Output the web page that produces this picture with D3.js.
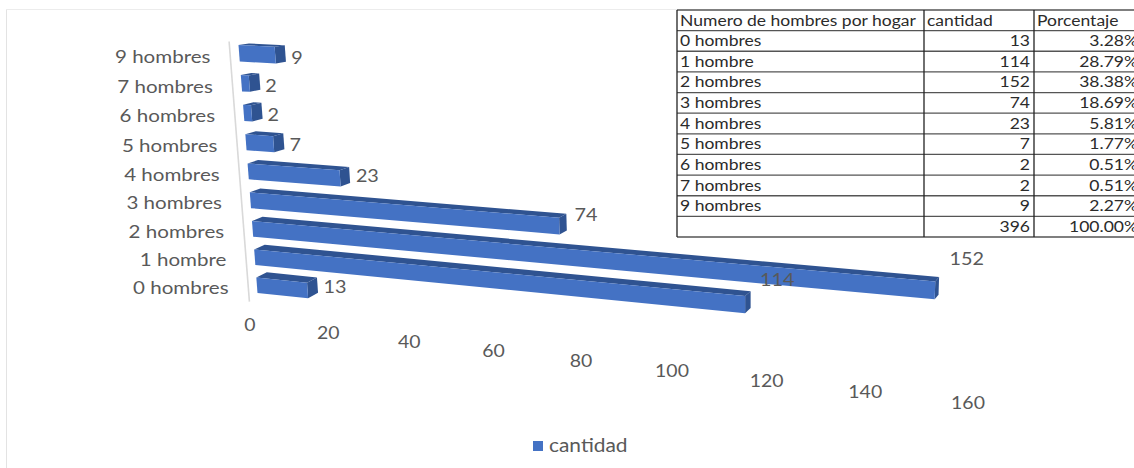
<!DOCTYPE html>
<html>
<head>
<meta charset="utf-8">
<script src="https://cdn.jsdelivr.net/npm/d3@7/dist/d3.min.js"></script>
<style>
html,body{margin:0;padding:0;background:#fff;overflow:hidden}
svg{display:block}
text{font-family:Lato,"Noto Sans",sans-serif}
</style>
</head>
<body>
<svg id="chart" width="1134" height="468"></svg>
<script>
// Household data: men per household
const categories = ["0 hombres","1 hombre","2 hombres","3 hombres","4 hombres","5 hombres","6 hombres","7 hombres","9 hombres"];
const cantidad = [13,114,152,74,23,7,2,2,9];
const porcentaje = ["3.28%","28.79%","38.38%","18.69%","5.81%","1.77%","0.51%","0.51%","2.27%"];
const totalCantidad = "396";
const totalPorcentaje = "100.00%";
const xTicks = [0,20,40,60,80,100,120,140,160];
const tableHeader = ["Numero de hombres por hogar","cantidad","Porcentaje"];
const seriesName = "cantidad";

const W = 1134, H = 468;
const svg = d3.select("#chart");

const FRONT = "#4472C4", SHADE = "#2F5391";

// Widen text horizontally by a factor, keeping its anchor
function widen(sel,k){
  sel.each(function(){
    const len=this.getComputedTextLength();
    if(len>0) d3.select(this).attr("textLength",len*k).attr("lengthAdjust","spacingAndGlyphs");
  });
}

// Scales work on a flat unit plane; the plane is then tilted into perspective
const xScale = d3.scaleLinear().domain([0,160]).range([0,1]);
const rowScale = d3.scaleBand().domain(categories).range([0,1]).paddingInner(0.45).paddingOuter(0);

// Corners of the tilted plane on screen: (0,0), (1,0), (1,1), (0,1)
const corners = [[257.5,293],[974,368],[985,81],[238.5,45]];
function makeHomography(c){
  const [[x0,y0],[x1,y1],[x2,y2],[x3,y3]] = c;
  const dx1=x1-x2, dx2=x3-x2, sx=x0-x1+x2-x3;
  const dy1=y1-y2, dy2=y3-y2, sy=y0-y1+y2-y3;
  const det=dx1*dy2-dx2*dy1;
  const g=(sx*dy2-dx2*sy)/det, h=(dx1*sy-sx*dy1)/det;
  const a=x1-x0+g*x1, b=x3-x0+h*x3, d=y1-y0+g*y1, e=y3-y0+h*y3;
  return (u,v)=>{
    const w=g*u+h*v+1;
    return [(a*u+b*v+x0)/w,(d*u+e*v+y0)/w];
  };
}
const plane = makeHomography(corners);

// Extrusion of each bar: narrows to the right, flattens toward the top
const depthX = d3.scaleLinear().domain([0,160]).range([10.5,3.5]);
const depthY = d3.scaleLinear().domain([0,1]).range([-5.5,-1.5]);
const back = (p,val,w)=>[p[0]+depthX(val),p[1]+depthY(w)];

// Chart frame
svg.append("line").attr("x1",6.5).attr("x2",6.5).attr("y1",9).attr("y2",H).attr("stroke","#e3e3e3");
svg.append("line").attr("x1",6).attr("x2",677).attr("y1",9.5).attr("y2",9.5).attr("stroke","#ececec");

// Category axis line
const axisTop = plane(xScale(-2.3),1.012), axisBottom = plane(xScale(-2.3),-0.04);
svg.append("line").attr("x1",axisTop[0]).attr("y1",axisTop[1]).attr("x2",axisBottom[0]).attr("y2",axisBottom[1])
  .attr("stroke","#d9d9d9").attr("stroke-width",1.6);

// Category labels, end-aligned along the axis
svg.append("g").selectAll("text").data(categories).join("text")
  .attr("x",d=>plane(xScale(-2.3),rowScale(d)+rowScale.bandwidth()/2)[0]-19.5)
  .attr("y",d=>{const w=rowScale(d)+rowScale.bandwidth()/2;return plane(0,w)[1]+8.5+1.5*w;})
  .attr("text-anchor","end").attr("font-size",18.2).attr("fill","#595959").text(d=>d)
  .call(widen,1.13);

// Bars as three visible faces
const line = d3.line();
const bars = svg.append("g").selectAll("g").data(categories).join("g");
bars.each(function(cat,i){
  const v=cantidad[i], w0=rowScale(cat), w1=w0+rowScale.bandwidth(), u=xScale(v);
  const flb=plane(0,w0), flt=plane(0,w1), frb=plane(u,w0), frt=plane(u,w1);
  const blt=back(flt,0,w1), brt=back(frt,v,w1), brb=back(frb,v,w0);
  const g=d3.select(this);
  g.append("path").attr("d",line([flt,frt,brt,blt])+"Z").attr("fill",SHADE);
  g.append("path").attr("d",line([frt,frb,brb,brt])+"Z").attr("fill",SHADE);
  g.append("path").attr("d",line([flt,frt,frb,flb])+"Z").attr("fill",FRONT);
});

// Value labels: the longer the bar, the higher its label sits above the slope
const labelLift = d3.scaleLinear().domain([0,74,114,160]).range([0,-11,-23,-33]);
const labelGap = d3.scaleLinear().domain([0,160]).range([5.5,11]);
svg.append("g").selectAll("text").data(categories).join("text")
  .attr("x",(d,i)=>{
    const w=rowScale(d)+rowScale.bandwidth()/2;
    const p=plane(xScale(cantidad[i]),w);
    return back(p,cantidad[i],w)[0]+labelGap(cantidad[i]);
  })
  .attr("y",(d,i)=>{
    const w=rowScale(d)+rowScale.bandwidth()/2;
    return plane(xScale(cantidad[i]),w)[1]+labelLift(cantidad[i])+5+6*w-1;
  })
  .attr("font-size",18).attr("fill","#595959").text((d,i)=>cantidad[i])
  .call(widen,1.1);

// Value axis tick labels run on their own receding line under the bars
const recede = u=>u/(1-0.1446*u);
const tickX = d3.scaleLinear().domain([0,recede(1)]).range([250,968]);
const tickY = d3.scaleLinear().domain([0,recede(1)]).range([331,409]);
svg.append("g").selectAll("text").data(xTicks).join("text")
  .attr("x",d=>tickX(recede(xScale(d))))
  .attr("y",d=>tickY(recede(xScale(d))))
  .attr("text-anchor","middle").attr("font-size",18).attr("fill","#595959").text(d=>d)
  .call(widen,1.08);

// Legend
svg.append("rect").attr("x",533).attr("y",441).attr("width",10).attr("height",10).attr("fill",FRONT);
svg.append("text").attr("x",549).attr("y",452).attr("font-size",18.5).attr("fill","#595959").text(seriesName)
  .call(widen,1.13);

// Summary table
const table = svg.append("g");
const rows = [tableHeader].concat(categories.map((c,i)=>[c,cantidad[i],porcentaje[i]]),[["",totalCantidad,totalPorcentaje]]);
const rowY = d3.scalePoint().domain(d3.range(rows.length+1)).range([10,237]);
const colX = [677,924,1034,1142];
table.append("rect").attr("x",colX[0]).attr("y",10).attr("width",W).attr("height",227).attr("fill","#fff");
rowY.domain().forEach(r=>table.append("line").attr("x1",colX[0]).attr("x2",W)
  .attr("y1",rowY(r)).attr("y2",rowY(r)).attr("stroke","#555").attr("stroke-width",1.3));
colX.slice(0,3).forEach(x=>table.append("line").attr("x1",x).attr("x2",x).attr("y1",10).attr("y2",237)
  .attr("stroke","#222").attr("stroke-width",1.3));
rows.forEach((row,r)=>{
  const y=rowY(r)+15.5;
  row.forEach((cell,c)=>{
    const numeric = r>0 && c>0;
    table.append("text")
      .attr("x",numeric?colX[c+1]-4:colX[c]+3)
      .attr("y",y).attr("text-anchor",numeric?"end":"start")
      .attr("font-size",14.6).attr("fill","#2b2b2b").text(cell)
      .call(widen,1.2);
  });
});
</script>
</body>
</html>
